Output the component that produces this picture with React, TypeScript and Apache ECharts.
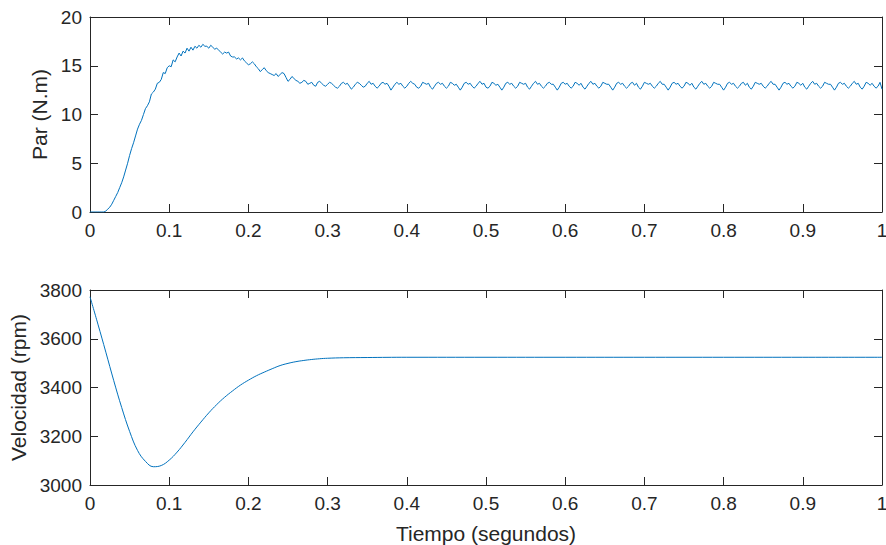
import React, { useEffect, useRef } from "react";
import * as echarts from "echarts";

// Sample spacing of the torque trace (seconds)
const torqueStep = 0.0025;

// Torque (N.m), t = 0 .. 0.2975
const torqueRise = [
  0, 0, 0, 0, 0, 0, 0, 0, 0.1, 0.3,
  0.5, 0.8, 1.2, 1.6, 2.0, 2.5, 3.0, 3.6, 4.3, 5.0,
  5.8, 6.5, 7.1, 7.8, 8.5, 9.0, 9.4, 10.0, 10.6, 10.9,
  11.3, 12.1, 12.3, 12.6, 13.2, 13.3, 13.6, 14.3, 14.2, 14.8,
  15.0, 14.9, 15.6, 15.4, 15.9, 16.3, 16.0, 16.5, 16.3, 16.8,
  16.5, 16.9, 16.6, 17.0, 16.8, 17.1, 16.9, 17.2, 17.0, 17.0,
  16.8, 17.1, 16.9, 16.7, 16.8, 16.6, 16.4, 16.2, 16.4, 16.3,
  16.4, 16.0, 15.9, 15.9, 15.7, 15.8, 15.6, 15.8, 15.5, 15.3,
  15.1, 15.2, 15.4, 15.2, 14.9, 14.7, 14.4, 14.6, 14.8, 14.5,
  14.3, 14.2, 14.1, 14.0, 14.2, 13.9, 14.1, 14.3, 14.2, 13.8,
  13.4, 13.6, 13.9, 13.7, 13.5, 13.4, 13.2, 13.3, 13.5, 13.4,
  13.1, 13.2, 13.3, 13.0, 12.9, 13.3, 13.4, 13.2, 13.0, 12.9,
];

// Torque (N.m), t = 0.3 .. 1.0 (steady state with ripple)
const torqueSteady = [
  13.1, 13.3, 13.2, 13.0, 12.8, 12.7, 12.9, 13.2, 13.3, 13.1,
  13.2, 12.9, 12.6, 12.8, 13.1, 13.3, 13.2, 13.0, 12.8, 12.9,
  13.2, 13.4, 13.1, 13.2, 12.9, 12.7, 12.9, 13.2, 13.3, 13.1,
  13.2, 12.9, 12.5, 12.8, 13.1, 13.3, 13.1, 13.2, 12.9, 12.7,
  12.9, 13.2, 13.4, 13.2, 13.1, 12.8, 12.7, 12.9, 13.3, 13.2,
  13.1, 13.2, 12.8, 12.6, 12.9, 13.2, 13.3, 13.1, 13.2, 12.9,
  12.7, 12.9, 13.3, 13.2, 13.0, 13.1, 12.8, 12.5, 12.8, 13.2,
  13.3, 13.1, 13.2, 12.9, 12.7, 12.9, 13.2, 13.4, 13.1, 13.2,
  12.8, 12.7, 12.9, 13.3, 13.2, 13.0, 13.1, 12.8, 12.5, 12.8,
  13.2, 13.3, 13.1, 13.2, 12.9, 12.7, 12.9, 13.3, 13.2, 13.1,
  13.2, 12.8, 12.6, 12.9, 13.2, 13.4, 13.1, 13.2, 12.9, 12.7,
  12.9, 13.2, 13.3, 13.1, 13.1, 12.8, 12.5, 12.8, 13.2, 13.3,
  13.1, 13.2, 12.9, 12.7, 12.9, 13.3, 13.2, 13.0, 13.2, 12.8,
  12.6, 12.9, 13.2, 13.4, 13.1, 13.2, 12.9, 12.7, 12.9, 13.3,
  13.2, 13.1, 13.1, 12.8, 12.5, 12.8, 13.2, 13.3, 13.1, 13.2,
  12.9, 12.7, 12.9, 13.2, 13.3, 13.0, 13.2, 12.8, 12.6, 12.9,
  13.3, 13.2, 13.1, 13.2, 12.9, 12.7, 12.9, 13.2, 13.4, 13.1,
  13.1, 12.8, 12.5, 12.8, 13.2, 13.3, 13.1, 13.2, 12.9, 12.7,
  12.9, 13.3, 13.2, 13.0, 13.2, 12.8, 12.6, 12.9, 13.2, 13.4,
  13.1, 13.2, 12.9, 12.7, 12.9, 13.3, 13.2, 13.1, 13.1, 12.8,
  12.5, 12.8, 13.2, 13.3, 13.1, 13.2, 12.9, 12.7, 12.9, 13.2,
  13.3, 13.0, 13.2, 12.8, 12.6, 12.9, 13.3, 13.2, 13.1, 13.2,
  12.9, 12.7, 12.9, 13.2, 13.4, 13.1, 13.1, 12.8, 12.5, 12.8,
  13.2, 13.3, 13.1, 13.2, 12.9, 12.7, 12.9, 13.3, 13.2, 13.0,
  13.2, 12.8, 12.6, 12.9, 13.2, 13.4, 13.1, 13.2, 12.9, 12.7,
  12.9, 13.3, 13.2, 13.1, 13.1, 12.8, 12.5, 12.8, 13.2, 13.3,
  13.1, 13.2, 12.9, 12.7, 12.9, 13.2, 13.4, 13.1, 13.2, 12.8,
  12.6, 12.9, 13.3, 13.2, 13.0, 13.2, 12.9, 12.7, 12.9, 13.3,
  12.6,
];

// Speed (rpm)
const speedTimes = [
  0, 0.01, 0.02, 0.03, 0.04, 0.05, 0.06, 0.07, 0.08, 0.09,
  0.1, 0.11, 0.12, 0.13, 0.14, 0.15, 0.16, 0.17, 0.18, 0.19,
  0.2, 0.21, 0.22, 0.23, 0.24, 0.25, 0.26, 0.27, 0.28, 0.29,
  0.3, 0.32, 0.35, 0.4, 0.5, 0.6, 0.7, 0.8, 0.9, 1.0,
];
const speedValues = [
  3772, 3660, 3545, 3428, 3318, 3220, 3142, 3097, 3075, 3080,
  3102, 3135, 3175, 3218, 3258, 3296, 3330, 3360, 3386, 3410,
  3430, 3448, 3463, 3477, 3490, 3499, 3506, 3511, 3515, 3518,
  3520, 3522, 3523, 3524, 3524, 3524, 3524, 3524, 3524, 3524,
];

const TEXT = "#262626";
const FONT = "'Liberation Sans', Arial, Helvetica, sans-serif";
const LINE = "#0072BD";
const TICK_FS = 19;
const NAME_FS = 21;

const xFmt = (v: number) => (v === 0 ? "0" : v === 1 ? "1" : v.toFixed(1));
const yFmt = (v: number) => String(v);

function xAxisDef(grid: number, pos: "top" | "bottom", labels: boolean, name?: string) {
  return {
    type: "value",
    gridIndex: grid,
    position: pos,
    min: 0,
    max: 1,
    interval: 0.1,
    name: name,
    nameLocation: "middle",
    nameGap: 38,
    nameTextStyle: { color: TEXT, fontFamily: FONT, fontSize: NAME_FS },
    axisLine: { show: true, onZero: false, lineStyle: { color: TEXT, width: 1 } },
    axisTick: { show: true, inside: true, length: 8, lineStyle: { color: TEXT } },
    axisLabel: {
      show: labels,
      formatter: xFmt,
      color: TEXT,
      fontFamily: FONT,
      fontSize: TICK_FS,
      margin: 9,
      hideOverlap: false,
    },
    splitLine: { show: false },
  };
}

function yAxisDef(
  grid: number,
  pos: "left" | "right",
  labels: boolean,
  min: number,
  max: number,
  interval: number,
  name?: string,
  nameGap?: number
) {
  return {
    type: "value",
    gridIndex: grid,
    position: pos,
    min,
    max,
    interval,
    name: name,
    nameLocation: "middle",
    nameGap: nameGap ?? 40,
    nameRotate: 90,
    nameTextStyle: { color: TEXT, fontFamily: FONT, fontSize: NAME_FS },
    axisLine: { show: true, onZero: false, lineStyle: { color: TEXT, width: 1 } },
    axisTick: { show: true, inside: true, length: 8, lineStyle: { color: TEXT } },
    axisLabel: {
      show: labels,
      formatter: yFmt,
      color: TEXT,
      fontFamily: FONT,
      fontSize: TICK_FS,
      margin: 8,
      hideOverlap: false,
    },
    splitLine: { show: false },
  };
}

export default function App() {
  const ref = useRef<HTMLDivElement>(null);

  useEffect(() => {
    if (!ref.current) return;
    const chart = echarts.init(ref.current, undefined, { renderer: "svg" });

    const torqueAll = [...torqueRise, ...torqueSteady];
    const torqueData = torqueAll.map((v, i) => [i * torqueStep, v]);
    const speedData = speedTimes.map((t, i) => [t, speedValues[i]]);

    chart.setOption({
      animation: false,
      backgroundColor: "#ffffff",
      grid: [
        { left: 90, top: 17, width: 792, height: 195, show: false, containLabel: false, outerBoundsMode: "none" },
        { left: 90, top: 290, width: 792, height: 195, show: false, containLabel: false, outerBoundsMode: "none" },
      ],
      xAxis: [
        xAxisDef(0, "bottom", true),
        xAxisDef(0, "top", false),
        xAxisDef(1, "bottom", true, "Tiempo (segundos)"),
        xAxisDef(1, "top", false),
      ],
      yAxis: [
        yAxisDef(0, "left", true, 0, 20, 5, "Par (N.m)", 37),
        yAxisDef(0, "right", false, 0, 20, 5),
        yAxisDef(1, "left", true, 3000, 3800, 200, "Velocidad (rpm)", 57),
        yAxisDef(1, "right", false, 3000, 3800, 200),
      ],
      series: [
        {
          type: "line",
          xAxisIndex: 0,
          yAxisIndex: 0,
          data: torqueData,
          showSymbol: false,
          symbol: "none",
          lineStyle: { color: LINE, width: 1 },
        },
        {
          type: "line",
          xAxisIndex: 2,
          yAxisIndex: 2,
          data: speedData,
          smooth: 0.4,
          showSymbol: false,
          symbol: "none",
          lineStyle: { color: LINE, width: 1 },
        },
      ],
    });

    return () => chart.dispose();
  }, []);

  return (
    <div
      ref={ref}
      style={{ position: "fixed", left: 0, top: 0, width: 886, height: 545, background: "#fff" }}
    />
  );
}
